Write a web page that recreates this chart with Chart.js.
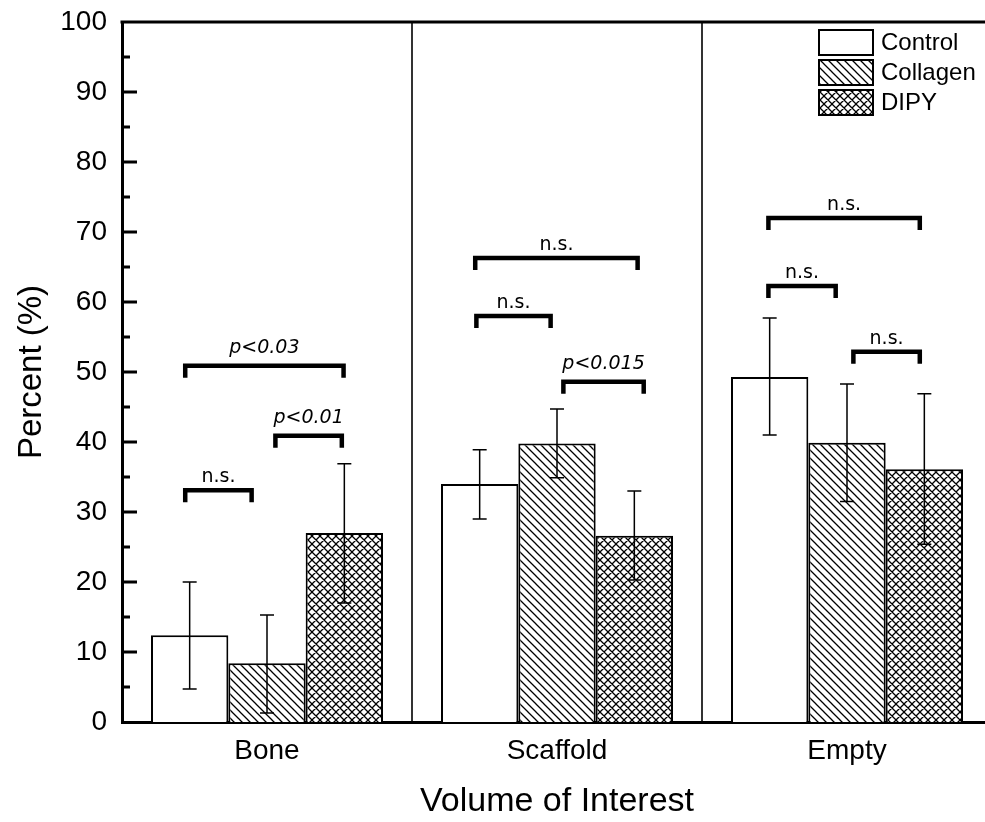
<!DOCTYPE html>
<html>
<head>
<meta charset="utf-8">
<script src="https://cdn.jsdelivr.net/npm/chart.js@4"></script>
<style>
  html, body { margin: 0; padding: 0; overflow: hidden; background: #fff; }
</style>
</head>
<body>
<canvas id="myChart" width="995" height="822"></canvas>
<script>
// values
const categories = ['Bone', 'Scaffold', 'Empty'];

const controlMean = [12.4, 34.0, 49.3];
const controlLow = [4.7, 29.0, 41.0];
const controlHigh = [20.0, 38.9, 57.7];

const collagenMean = [8.4, 39.8, 39.9];
const collagenLow = [1.3, 34.9, 31.5];
const collagenHigh = [15.3, 44.7, 48.3];

const dipyMean = [27.0, 26.6, 36.1];
const dipyLow = [17.0, 20.3, 25.4];
const dipyHigh = [36.9, 33.0, 46.9];

// significance brackets: category, start/end (in category units from centre), height, label
const bracketCat = [0, 0, 0, 1, 1, 1, 2, 2, 2];
const bracketFrom = [-0.282, 0.029, -0.282, -0.278, -0.282, 0.022, -0.271, 0.022, -0.271];
const bracketTo = [-0.053, 0.258, 0.264, -0.022, 0.278, 0.299, -0.039, 0.251, 0.251];
const bracketY = [33.1, 40.9, 50.9, 58.0, 66.3, 48.6, 62.3, 52.9, 72.0];
const bracketLabel = ['n.s.', 'p<0.01', 'p<0.03', 'n.s.', 'n.s.', 'p<0.015', 'n.s.', 'n.s.', 'n.s.'];

const yTicks = [0, 10, 20, 30, 40, 50, 60, 70, 80, 90, 100];

var ctx = document.getElementById('myChart').getContext('2d');

function hatch(cross, size) {
    var c = document.createElement('canvas');
    c.width = size; c.height = size;
    var g = c.getContext('2d');
    g.fillStyle = '#fff';
    g.fillRect(0, 0, size, size);
    g.strokeStyle = '#000';
    g.lineWidth = 1.3;
    g.beginPath();
    g.moveTo(-1, -1); g.lineTo(size + 1, size + 1);
    g.moveTo(-1, size - 1); g.lineTo(1, size + 1);
    g.moveTo(size - 1, -1); g.lineTo(size + 1, 1);
    if (cross) {
        g.moveTo(size + 1, -1); g.lineTo(-1, size + 1);
        g.moveTo(1, -1); g.lineTo(-1, 1);
        g.moveTo(size + 1, size - 1); g.lineTo(size - 1, size + 1);
    }
    g.stroke();
    return ctx.createPattern(c, 'repeat');
}

const lowArrays = [controlLow, collagenLow, dipyLow];
const highArrays = [controlHigh, collagenHigh, dipyHigh];

const extras = {
    id: 'extras',
    afterDatasetsDraw(chart) {
        const c = chart.ctx;
        const y = chart.scales.y;
        const x = chart.scales.x;
        const area = chart.chartArea;
        c.save();

        // error bars
        c.strokeStyle = '#000';
        c.lineWidth = 1.5;
        chart.data.datasets.forEach(function(ds, i) {
            chart.getDatasetMeta(i).data.forEach(function(bar, j) {
                var top = y.getPixelForValue(highArrays[i][j]);
                var bot = y.getPixelForValue(lowArrays[i][j]);
                c.beginPath();
                c.moveTo(bar.x, top); c.lineTo(bar.x, bot);
                c.moveTo(bar.x - 7, top); c.lineTo(bar.x + 7, top);
                c.moveTo(bar.x - 7, bot); c.lineTo(bar.x + 7, bot);
                c.stroke();
            });
        });

        // brackets
        var catW = x.getPixelForValue(1) - x.getPixelForValue(0);
        c.lineWidth = 4.5;
        c.lineJoin = 'miter';
        c.textAlign = 'center';
        c.textBaseline = 'alphabetic';
        c.fillStyle = '#000';
        bracketY.forEach(function(v, k) {
            var cx = x.getPixelForValue(bracketCat[k]);
            var x1 = cx + bracketFrom[k] * catW;
            var x2 = cx + bracketTo[k] * catW;
            var py = y.getPixelForValue(v);
            c.beginPath();
            c.moveTo(x1, py + 12);
            c.lineTo(x1, py);
            c.lineTo(x2, py);
            c.lineTo(x2, py + 12);
            c.stroke();
            var lab = bracketLabel[k];
            var isP = lab.charAt(0) === 'p';
            c.font = (isP ? 'italic ' : '') + '19px "DejaVu Sans"';
            c.fillText(lab, (x1 + x2) / 2, py - (isP ? 13 : 8));
        });

        // top frame line
        c.lineWidth = 3;
        c.beginPath();
        c.moveTo(area.left - 1.5, area.top);
        c.lineTo(area.right + 2, area.top);
        c.stroke();

        // inward ticks on y axis
        for (var t = 5; t < 100; t += 5) {
            var ty = y.getPixelForValue(t);
            c.beginPath();
            c.moveTo(area.left, ty);
            c.lineTo(area.left + (t % 10 === 0 ? 15 : 8), ty);
            c.stroke();
        }

        // legend
        var lx = area.right - 173;
        var ly = area.top + 8;
        c.font = '24px "Liberation Sans", Arial, sans-serif';
        c.textAlign = 'left';
        c.textBaseline = 'middle';
        chart.data.datasets.forEach(function(ds, i) {
            var by = ly + i * 30;
            c.fillStyle = ds.backgroundColor;
            c.fillRect(lx, by, 54, 25);
            c.lineWidth = 2;
            c.strokeStyle = '#000';
            c.strokeRect(lx, by, 54, 25);
            c.fillStyle = '#000';
            c.fillText(ds.label, lx + 62, by + 13);
        });
        c.restore();
    }
};

var config = {
    type: 'bar',
    data: {
        labels: categories,
        datasets: [{
            label: 'Control',
            data: controlMean,
            backgroundColor: '#ffffff',
            borderColor: '#000',
            borderWidth: 2
        }, {
            label: 'Collagen',
            data: collagenMean,
            backgroundColor: hatch(false, 8),
            borderColor: '#000',
            borderWidth: 2
        }, {
            label: 'DIPY',
            data: dipyMean,
            backgroundColor: hatch(true, 8),
            borderColor: '#000',
            borderWidth: 2
        }]
    },
    options: {
        responsive: false,
        animation: false,
        layout: { padding: { top: 22, right: 3, left: 0, bottom: 0 } },
        datasets: { bar: { categoryPercentage: 0.8, barPercentage: 1.0 } },
        plugins: {
            legend: { display: false },
            tooltip: { enabled: false }
        },
        scales: {
            x: {
                grid: { display: true, offset: true, color: '#333', lineWidth: 2, drawTicks: false },
                border: { display: true, color: '#000', width: 3 },
                ticks: {
                    color: '#000',
                    padding: 12,
                    font: { family: '"Liberation Sans", Arial, sans-serif', size: 28 }
                },
                title: {
                    display: true,
                    text: 'Volume of Interest',
                    color: '#000',
                    padding: { top: 0, bottom: 0 },
                    font: { family: '"Liberation Sans", Arial, sans-serif', size: 34 }
                },
                afterFit: function(scale) {
                    scale.height = 100;
                    scale.paddingLeft = 0;
                    scale.paddingRight = 0;
                }
            },
            y: {
                min: 0,
                max: 100,
                grid: { display: false, drawTicks: false },
                border: { display: true, color: '#000', width: 3 },
                afterBuildTicks: function(scale) {
                    scale.ticks = yTicks.map(function(v) { return { value: v }; });
                },
                ticks: {
                    color: '#000',
                    padding: 15,
                    font: { family: '"Liberation Sans", Arial, sans-serif', size: 28 }
                },
                title: {
                    display: true,
                    text: 'Percent (%)',
                    color: '#000',
                    padding: { top: 12, bottom: 0 },
                    font: { family: '"Liberation Sans", Arial, sans-serif', size: 33 }
                },
                afterFit: function(scale) {
                    scale.width = 122;
                    scale.paddingTop = 0;
                    scale.paddingBottom = 0;
                }
            }
        }
    },
    plugins: [extras]
};

var chart = new Chart(ctx, config);
</script>
</body>
</html>
